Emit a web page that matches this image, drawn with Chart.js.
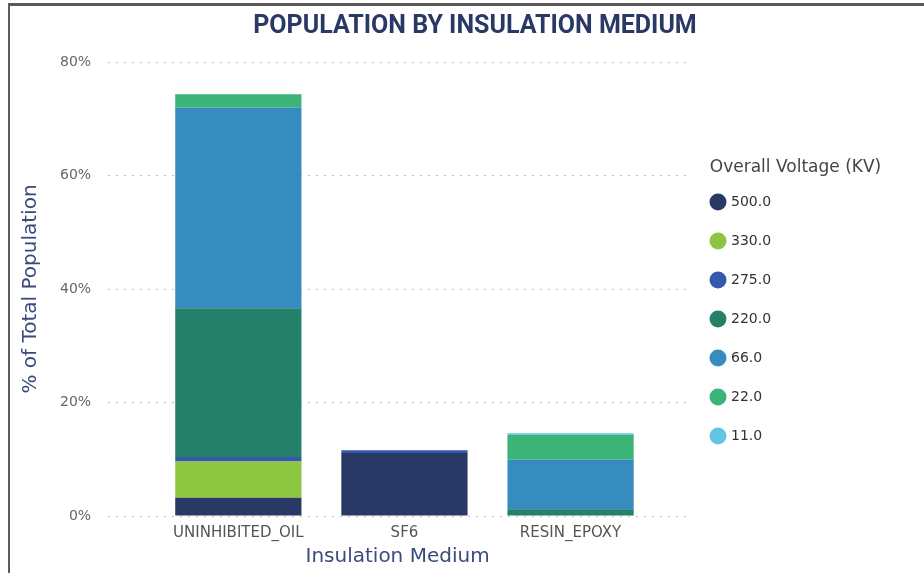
<!DOCTYPE html>
<html>
<head>
<meta charset="utf-8">
<title>Population by Insulation Medium</title>
<script src="https://cdn.jsdelivr.net/npm/chart.js"></script>
<style>
  html, body { margin: 0; padding: 0; background: #fff; }
  #frame {
    position: absolute; left: 8px; top: 3px; width: 930px; height: 568px;
    border-left: 2px solid #5c5c5c; border-top: 3px solid #5a5a5a; border-bottom: 1px solid #d0d0d0;
  }
  #chart { position: absolute; left: 0; top: 0; }
</style>
</head>
<body>
<div id="frame"></div>
<canvas id="chart" width="924" height="573"></canvas>
<script>
// categories on the x axis
const categories = ['UNINHIBITED_OIL', 'SF6', 'RESIN_EPOXY'];

// voltage levels (KV), bottom of the stack first
const voltages = ['500.0', '330.0', '275.0', '220.0', '66.0', '22.0', '11.0'];

// % of total population, one value per category
const v500 = [3.2, 11.1, 0];
const v330 = [6.4, 0, 0];
const v275 = [0.8, 0.5, 0];
const v220 = [26.2, 0, 1.2];
const v66 = [35.4, 0, 8.7];
const v22 = [2.3, 0, 4.4];
const v11 = [0, 0, 0.3];

const yTicks = [0, 20, 40, 60, 80];

const colors = ['#2a3866', '#8cc540', '#3458ab', '#25806a', '#368bbf', '#3bb478', '#62c6e2'];
const series = [v500, v330, v275, v220, v66, v22, v11];

const datasets = series.map((vals, k) => ({
  label: voltages[k],
  data: vals.map((y, i) => ({ x: i, y: y })),
  backgroundColor: colors[k],
  borderWidth: 0,
  barPercentage: 0.76,
  categoryPercentage: 1
}));

// legend is a bit wider than its items so the title fits
const legendWidth = {
  id: 'legendWidth',
  beforeUpdate(chart) {
    const lg = chart.legend;
    if (lg && !lg._patched) {
      const fit = lg.fit;
      lg.fit = function () { fit.call(this); this.width = 217; };
      lg._patched = true;
    }
  }
};

const font = 'DejaVu Sans';

new Chart(document.getElementById('chart'), {
  type: 'bar',
  data: { datasets: datasets },
  plugins: [legendWidth],
  options: {
    responsive: false,
    animation: false,
    layout: { padding: { left: 46, right: 20, top: 0, bottom: 2 } },
    plugins: {
      title: {
        display: true,
        text: 'POPULATION BY INSULATION MEDIUM',
        color: '#2a3866',
        font: { family: "Roboto, sans-serif", size: 25, weight: 'bold' },
        padding: { top: 12, bottom: 20 }
      },
      legend: {
        position: 'right',
        align: 'start',
        title: {
          display: true,
          text: 'Overall Voltage (KV)',
          color: '#444',
          font: { family: font, size: 17 },
          padding: { top: 159.5, bottom: -9.9 }
        },
        labels: {
          usePointStyle: true,
          pointStyle: 'circle',
          boxWidth: 12,
          boxHeight: 12,
          padding: 25,
          color: '#333',
          font: { family: font, size: 14 }
        }
      },
      tooltip: { enabled: false }
    },
    scales: {
      x: {
        type: 'linear',
        stacked: true,
        offset: false,
        min: -0.784,
        max: 2.701,
        afterBuildTicks: (scale) => { scale.ticks = categories.map((c, i) => ({ value: i })); },
        ticks: {
          callback: (v) => categories[v],
          color: '#555',
          font: { family: font, size: 15 },
          padding: 8,
          maxRotation: 0,
          autoSkip: false
        },
        grid: { display: false, drawTicks: false },
        border: { display: false },
        title: {
          display: true,
          text: 'Insulation Medium',
          color: '#3b4b7c',
          font: { family: font, size: 20 },
          padding: { top: -5, bottom: 2 }
        }
      },
      y: {
        stacked: true,
        min: 0,
        max: 80,
        afterBuildTicks: (scale) => { scale.ticks = yTicks.map(v => ({ value: v })); },
        ticks: {
          callback: (v) => v + '%',
          color: '#666',
          font: { family: font, size: 14 },
          padding: 17
        },
        grid: { color: '#bdbdbd', lineWidth: 1, drawTicks: false },
        border: { display: false, dash: [2, 6] },
        title: {
          display: true,
          text: '% of Total Population',
          color: '#3b4b7c',
          font: { family: font, size: 20 },
          padding: { top: -27, bottom: 0 }
        }
      }
    }
  }
});
</script>
</body>
</html>
